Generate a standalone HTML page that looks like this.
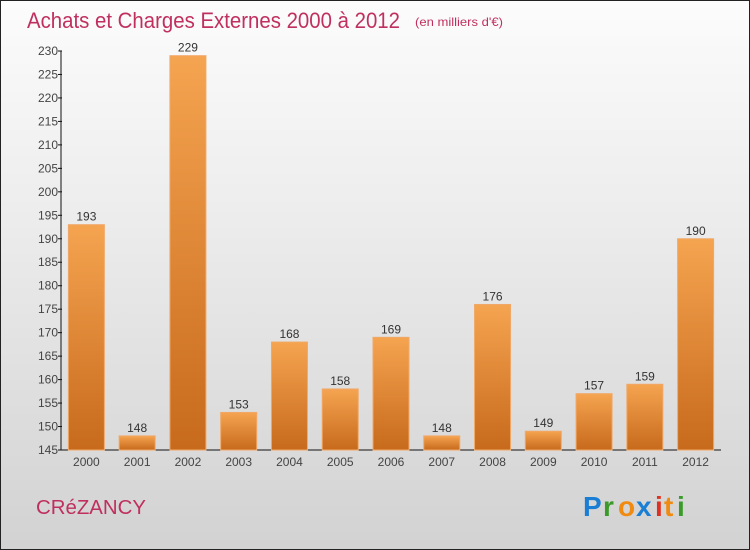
<!DOCTYPE html>
<html><head><meta charset="utf-8"><style>
body{margin:0;width:750px;height:550px;overflow:hidden;font-family:"Liberation Sans",sans-serif}
#wrap{position:absolute;left:0;top:0;width:748px;height:548px;border:1px solid #222;background:linear-gradient(#fcfcfc,#ececec 40%,#d2d2d2)}
</style></head><body>
<div id="wrap">
<svg width="750" height="550" style="position:absolute;left:-1px;top:-1px">
<defs>
<linearGradient id="bg" x1="0" y1="0" x2="0" y2="1"><stop offset="0" stop-color="#f5a450"/><stop offset="1" stop-color="#c76a1c"/></linearGradient>
</defs>
<text x="27" y="28" font-size="22" fill="#c0305e" textLength="373" lengthAdjust="spacingAndGlyphs">Achats et Charges Externes 2000 à 2012</text>
<text x="415" y="26" font-size="12" fill="#c0305e" textLength="88" lengthAdjust="spacingAndGlyphs">(en milliers d'€)</text>
<g id="axes"></g><g id="bars"></g>
<text x="36" y="514" font-size="20" fill="#c0305e" textLength="110" lengthAdjust="spacingAndGlyphs">CRéZANCY</text>
<g font-size="28" font-weight="bold">
<text x="583" y="516" fill="#1a7fd4">P</text><text x="603" y="516" fill="#3a9a2a">r</text><text x="618" y="516" fill="#f08a10">o</text><text x="636" y="516" fill="#1a7fd4">x</text><text x="655" y="516" fill="#e03020">i</text><text x="664" y="516" fill="#f08a10">t</text><text x="677" y="516" fill="#3a9a2a">i</text>
</g>
</svg></div>
<script>
const years=["2000","2001","2002","2003","2004","2005","2006","2007","2008","2009","2010","2011","2012"];
const values=[193,148,229,153,168,158,169,148,176,149,157,159,190];
const ticks=[145,150,155,160,165,170,175,180,185,190,195,200,205,210,215,220,225,230];
const NS="http://www.w3.org/2000/svg";
const x0=61,x1=721,yb=450,yt=51,vmin=145,vmax=230;
const y=v=>yb-(v-vmin)/(vmax-vmin)*(yb-yt);
const bw=(x1-x0)/years.length;
const ax=document.getElementById('axes'),bg=document.getElementById('bars');
function mk(t,a,p){const e=document.createElementNS(NS,t);for(const k in a)e.setAttribute(k,a[k]);p.appendChild(e);return e;}
const yl=mk('line',{x1:x0,y1:yt,x2:x0,y2:yb,stroke:'#111'},ax);


const xl=mk('line',{x1:x0,y1:yb,x2:x1,y2:yb,stroke:'#111'},ax);


ticks.forEach(t=>{
 mk('line',{x1:x0-3,y1:y(t),x2:x0+1,y2:y(t),stroke:'#111'},ax);
 const tx=mk('text',{x:x0-3,y:y(t)+4,'font-size':12,'text-anchor':'end',fill:'#444'},ax);
 tx.textContent=t;
 
 
});
years.forEach((yr,i)=>{
 const cx=x0+bw*(i+0.5),v=values[i];
 const r=mk('rect',{x:cx-18,y:y(v),width:36,height:yb-y(v),fill:'url(#bg)',stroke:'#f0a868','stroke-width':1},bg);
 
 
 const vl=mk('text',{x:cx,y:y(v)-4,'font-size':12,'text-anchor':'middle',fill:'#333'},bg);
 vl.textContent=v;
 
 
 const xl2=mk('text',{x:cx,y:yb+16,'font-size':12,'text-anchor':'middle',fill:'#444'},ax);
 xl2.textContent=yr;
 
 
});
</script>
</body></html>
